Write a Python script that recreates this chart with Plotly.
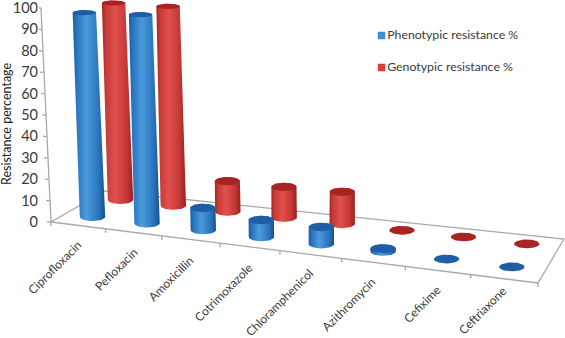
import numpy as np
import plotly.graph_objects as go

categories = ["Ciprofloxacin", "Pefloxacin", "Amoxicillin", "Cotrimoxazole",
              "Chloramphenicol", "Azithromycin", "Cefixime", "Ceftriaxone"]
phenotypic = [98, 99, 10.3, 7.8, 7.8, 1.3, 0, 0]
genotypic = [100, 100, 15, 15, 15.5, 0, 0, 0]
y_ticks = list(range(0, 101, 10))
series_names = ["Phenotypic resistance %", "Genotypic resistance %"]

W, H = 565, 338
Y0, PX_PER_PCT = 222.0, 2.14
LEFT = 39
FONT = "Lato"
TEXT = "#3a3a3a"
GRID = "#a8a8a8"

FRONT_L, FRONT_R = np.array([51.0, 222.0]), np.array([538.0, 283.0])
BACK_L, BACK_R = np.array([105.0, 191.0]), np.array([564.0, 239.0])


def floor(u, v):
    """Chart-space floor position (category u, depth v) to page position and height scale."""
    t = u / 8 * (1 - 0.12 * (1 - u / 8))
    front = FRONT_L + (FRONT_R - FRONT_L) * t
    back = BACK_L + (BACK_R - BACK_L) * t
    p = front + (back - front) * v
    scale = (1 - 0.1 * v) * (1 + 0.012 * (u - 0.5))
    return p[0], p[1], scale


def to_axes(px, py):
    return np.asarray(px, float), (Y0 - np.asarray(py, float)) / PX_PER_PCT


fig = go.Figure()


def line(pts, color=GRID, width=1.3):
    x, y = to_axes([p[0] for p in pts], [p[1] for p in pts])
    fig.add_trace(go.Scatter(x=x, y=y, mode="lines", line=dict(color=color, width=width),
                             hoverinfo="skip", showlegend=False))


# floor outline and axis
line([FRONT_L, FRONT_R, BACK_R, BACK_L, FRONT_L])
line([(51, 222), (41, 8)])
for t in y_ticks:
    ax = 51 - 10 * t / 100
    ay = Y0 - PX_PER_PCT * t
    line([(ax - 4, ay), (ax, ay)])
for i in range(9):
    x, y, _ = floor(i, 0)
    line([(x, y), (x, y + 4)])


def cylinder(u, v, value, colors, top_color):
    bx, by, w = floor(u, v)
    height = PX_PER_PCT * w * value
    tx = bx - (330 - bx) * 0.000168 * height
    ty = by - height
    rb = 12.7
    rt = 12.7 - 1.0 * value / 100
    ryb = 4.4
    ryt = 4.4 - 1.8 * value / 100
    th = np.linspace(0, np.pi, 31)
    if value > 0:
        px = np.concatenate([bx - rb * np.cos(th), tx + rt * np.cos(th)])
        py = np.concatenate([by + ryb * np.sin(th), ty - ryt * np.sin(th)])
        px = np.append(px, px[0]); py = np.append(py, py[0])
        x, y = to_axes(px, py)
        fig.add_trace(go.Scatter(
            x=x, y=y, mode="lines", line=dict(width=0), fill="toself",
            fillgradient=dict(type="horizontal", colorscale=colors),
            hoverinfo="skip", showlegend=False))
    t2 = np.linspace(0, 2 * np.pi, 61)
    x, y = to_axes(tx + rt * np.cos(t2), ty + ryt * np.sin(t2))
    fig.add_trace(go.Scatter(x=x, y=y, mode="lines", line=dict(width=0), fill="toself",
                             fillcolor=top_color, hoverinfo="skip", showlegend=False))


BLUE = [[0, "#1b5b9e"], [0.12, "#2a73bd"], [0.42, "#4a9bdc"], [0.8, "#2a74bc"], [1, "#174f8c"]]
RED = [[0, "#a32523"], [0.12, "#c43a37"], [0.42, "#e2504d"], [0.8, "#c23735"], [1, "#981f1e"]]

V_BLUE, V_RED = 0.276, 0.81
for i, val in enumerate(genotypic):
    cylinder(i + 0.5, V_RED, val, RED, "#a92322")
for i, val in enumerate(phenotypic):
    cylinder(i + 0.5, V_BLUE, val, BLUE, "#1f5ea6")

# series key
for name, col, ky in zip(series_names, ["#3f8fd6", "#d83f3c"], [35.5, 67.5]):
    x, y = to_axes([381.5], [ky])
    fig.add_trace(go.Scatter(x=x, y=y, mode="markers+text", name=name, text=[name],
                             textposition="middle right",
                             textfont=dict(family=FONT, size=12.3, color=TEXT),
                             marker=dict(symbol="square", size=7.5, color=col),
                             hoverinfo="skip", showlegend=False))

# category labels
label_ends = [(87, 235), (143, 242), (199, 250), (258, 257),
              (319, 263), (381, 272), (446, 280), (512, 281)]
for name, (lx, ly) in zip(categories, label_ends):
    x, y = to_axes(lx, ly)
    fig.add_annotation(x=float(x), y=float(y), text=name, textangle=-45, showarrow=False,
                       xanchor="right", yanchor="top",
                       font=dict(family=FONT, size=12, color=TEXT))

_, y = to_axes(6, 124)
fig.add_annotation(x=(6 - LEFT) / (W - LEFT), xref="paper", y=float(y), text="Resistance percentage",
                   textangle=-90, showarrow=False, xanchor="center", yanchor="middle",
                   font=dict(family=FONT, size=12.5, color="#222222"))

fig.update_layout(
    width=W, height=H, margin=dict(l=LEFT, r=0, t=0, b=0, pad=0),
    paper_bgcolor="white", plot_bgcolor="white", showlegend=False,
    xaxis=dict(range=[LEFT, W], visible=False, fixedrange=True),
    yaxis=dict(range=[(Y0 - H) / PX_PER_PCT, Y0 / PX_PER_PCT], tickmode="array", tickvals=y_ticks,
               ticktext=[str(t) for t in y_ticks], showgrid=False, zeroline=False, showline=False,
               ticks="", ticklen=0, ticklabeloverflow="allow",
               tickfont=dict(family=FONT, size=14.5, color=TEXT)),
)
fig.write_html("out.html", config={"displayModeBar": False},
               post_script="document.body.style.margin='0';document.documentElement.style.overflow='hidden';")
